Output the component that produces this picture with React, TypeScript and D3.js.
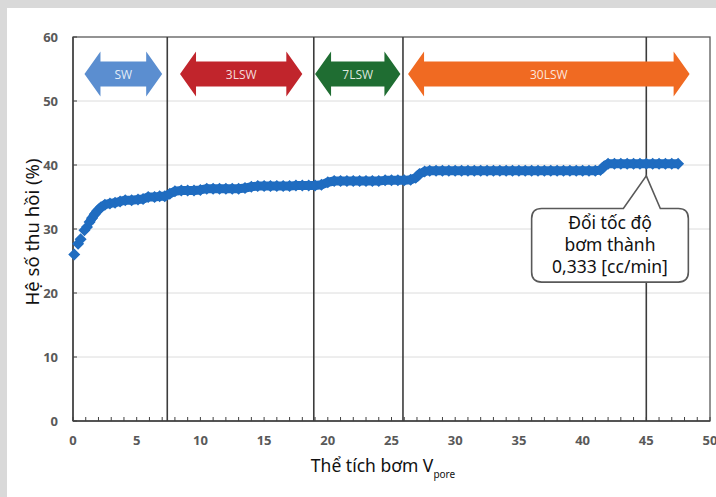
import React from "react";
import * as d3 from "d3";

// pumped volume (pore volumes) and recovery factor (%)
const volume = [
  0.1, 0.4, 0.6, 0.9, 1.1, 1.3, 1.5, 1.7, 1.9, 2.2, 2.5, 2.9, 3.3, 3.7, 4.1, 4.6, 5.1, 5.5, 5.9, 6.4, 6.8, 7.2,
  7.6, 8.0, 8.5, 9.0, 9.5, 10.0, 10.5, 11.0, 11.5, 12.0, 12.5, 13.0, 13.5, 14.0, 14.5, 15.0, 15.5, 16.0,
  16.5, 17.0, 17.5, 18.0, 18.5, 19.0, 19.5, 20.0, 20.5, 21.0, 21.5, 22.0, 22.5, 23.0, 23.5, 24.0, 24.5,
  25.0, 25.5, 26.0, 26.5, 26.9, 27.2, 27.6, 28.0, 28.5, 29.0, 29.5, 30.0, 30.5, 31.0, 31.5, 32.0, 32.5,
  33.0, 33.5, 34.0, 34.5, 35.0, 35.5, 36.0, 36.5, 37.0, 37.5, 38.0, 38.5, 39.0, 39.5, 40.0, 40.5, 41.0,
  41.4, 41.7, 42.0, 42.5, 43.0, 43.5, 44.0, 44.5, 45.0, 45.5, 46.0, 46.5, 47.0, 47.5,
];
const recovery = [
  26.0, 27.7, 28.4, 29.8, 30.3, 31.1, 31.7, 32.3, 32.8, 33.4, 33.8, 34.0, 34.1, 34.3, 34.5, 34.5, 34.6, 34.7, 35.0, 35.0, 35.1, 35.1,
  35.5, 35.9, 36.0, 36.0, 36.0, 36.1, 36.3, 36.3, 36.3, 36.3, 36.3, 36.3, 36.4, 36.6, 36.7, 36.7, 36.7, 36.7,
  36.7, 36.7, 36.8, 36.8, 36.8, 36.8, 36.9, 37.3, 37.5, 37.5, 37.5, 37.5, 37.5, 37.5, 37.5, 37.5, 37.6,
  37.6, 37.6, 37.6, 37.7, 38.0, 38.6, 39.0, 39.1, 39.1, 39.1, 39.1, 39.1, 39.1, 39.1, 39.1, 39.1, 39.1,
  39.1, 39.1, 39.1, 39.1, 39.1, 39.1, 39.1, 39.1, 39.1, 39.1, 39.1, 39.1, 39.1, 39.1, 39.1, 39.1, 39.1,
  39.2, 39.8, 40.2, 40.2, 40.2, 40.2, 40.2, 40.2, 40.2, 40.2, 40.2, 40.2, 40.2, 40.2,
];

// injection phase boundaries and the labelled arrows
const boundaries = [7.4, 18.9, 25.9, 45.0];
const phaseNames = ["SW", "3LSW", "7LSW", "30LSW"];
const phaseStart = [0.9, 8.4, 19.0, 26.3];
const phaseEnd = [7.0, 18.0, 25.7, 48.4];
const phaseColors = ["#5b8ed0", "#c1252c", "#1f6d32", "#f06a22"];

const xTicks = [0, 5, 10, 15, 20, 25, 30, 35, 40, 45, 50];
const yTicks = [0, 10, 20, 30, 40, 50, 60];
const calloutLines = ["Đổi tốc độ", "bơm thành", "0,333 [cc/min]"];

const W = 716;
const H = 497;
const left = 73;
const right = 710;
const top = 37;
const bottom = 421;

export default function App() {
  const x = d3.scaleLinear().domain([0, 50]).range([left, right]);
  const y = d3.scaleLinear().domain([0, 60]).range([bottom, top]);

  const pts: [number, number][] = volume.map((v, i) => [x(v), y(recovery[i])]);
  // the first few markers stand apart, the rest merge into a band
  const line = d3.line()(pts.slice(5)) || "";
  const diamond = d3.symbol().type(d3.symbolSquare).size(72)() || "";

  const minor = d3.range(0, 51, 1);

  // double headed block arrows
  const cy = 74;
  const headH = 22.5;
  const bodyH = 12.5;
  const headL = 16;
  const arrowPath = (x0: number, x1: number) =>
    `M${x0},${cy} L${x0 + headL},${cy - headH} L${x0 + headL},${cy - bodyH} L${x1 - headL},${cy - bodyH} ` +
    `L${x1 - headL},${cy - headH} L${x1},${cy} L${x1 - headL},${cy + headH} L${x1 - headL},${cy + bodyH} ` +
    `L${x0 + headL},${cy + bodyH} L${x0 + headL},${cy + headH} Z`;

  // callout box with pointer
  const bx0 = x(36.0), bx1 = x(48.3), by0 = y(33.2), by1 = y(21.7);
  const tipX = x(45.0), tipY = y(38.3);
  const pA = x(43.2), pB = x(46.1);
  const r = 10;
  const callout =
    `M${bx0 + r},${by0} L${pA},${by0} L${tipX},${tipY} L${pB},${by0} L${bx1 - r},${by0} ` +
    `Q${bx1},${by0} ${bx1},${by0 + r} L${bx1},${by1 - r} Q${bx1},${by1} ${bx1 - r},${by1} ` +
    `L${bx0 + r},${by1} Q${bx0},${by1} ${bx0},${by1 - r} L${bx0},${by0 + r} Q${bx0},${by0} ${bx0 + r},${by0} Z`;
  const cx = (bx0 + bx1) / 2;

  return (
    <svg width={W} height={H} style={{ position: "absolute", left: 0, top: 0 }}>
      <rect x={0} y={0} width={W} height={H} fill="#d9d9d9" />
      <rect x={7} y={8} width={W} height={H} fill="#ffffff" />

      {/* gridlines */}
      {yTicks.slice(1, -1).map((t) => (
        <line key={"g" + t} x1={left} x2={right} y1={y(t)} y2={y(t)} stroke="#dcdcdc" strokeWidth={1} />
      ))}

      {/* plot frame */}
      <rect x={left} y={top} width={right - left} height={bottom - top} fill="none" stroke="#5a5a5a" strokeWidth={1.3} />

      {/* ticks */}
      {minor.map((t) => (
        <line key={"mx" + t} x1={x(t)} x2={x(t)} y1={bottom} y2={bottom - 4} stroke="#404040" strokeWidth={1} />
      ))}
      {yTicks.map((t) => (
        <line key={"my" + t} x1={left} x2={left + 4} y1={y(t)} y2={y(t)} stroke="#404040" strokeWidth={1} />
      ))}
      <line x1={left} x2={left} y1={top} y2={bottom} stroke="#404040" strokeWidth={1.5} />
      <line x1={left} x2={right} y1={bottom} y2={bottom} stroke="#404040" strokeWidth={1.5} />

      {/* phase boundaries */}
      {boundaries.map((b) => (
        <line key={"b" + b} x1={x(b)} x2={x(b)} y1={top} y2={bottom} stroke="#3c3c3c" strokeWidth={1.6} />
      ))}

      {/* phase arrows */}
      {phaseNames.map((n, i) => {
        const x0 = x(phaseStart[i]);
        const x1 = x(phaseEnd[i]);
        return (
          <g key={n}>
            <path d={arrowPath(x0, x1)} fill={phaseColors[i]} />
            <text x={(x0 + x1) / 2} y={cy + 4.5} textAnchor="middle" fontFamily="'Open Sans', sans-serif"
              fontSize={12} fill="#ffffff" fillOpacity={0.85}>{n}</text>
          </g>
        );
      })}

      {/* series */}
      <path d={line} fill="none" stroke="#1f6cc0" strokeWidth={9} strokeLinejoin="round" />
      {pts.map((p, i) => (
        <path key={"d" + i} d={diamond} transform={`translate(${p[0]},${p[1]}) rotate(45)`} fill="#1f6cc0" />
      ))}

      {/* callout */}
      <path d={callout} fill="#ffffff" stroke="#595959" strokeWidth={1.6} />
      {calloutLines.map((t, i) => (
        <text key={t} x={cx} y={by0 + 20 + i * 22} textAnchor="middle" fontFamily="'Noto Sans', sans-serif"
          fontSize={17.5} fill="#111">{t}</text>
      ))}

      {/* tick labels */}
      {xTicks.map((t) => (
        <text key={"xt" + t} x={x(t)} y={bottom + 24} textAnchor="middle" fontFamily="'Open Sans', sans-serif"
          fontWeight="bold" fontSize={13} fill="#595959">{t}</text>
      ))}
      {yTicks.map((t) => (
        <text key={"yt" + t} x={left - 15} y={y(t) + 4.5} textAnchor="end" fontFamily="'Open Sans', sans-serif"
          fontWeight="bold" fontSize={13} fill="#595959">{t}</text>
      ))}

      {/* axis titles */}
      <text x={383} y={472} textAnchor="middle" fontFamily="'Noto Sans', sans-serif" fontSize={17.5} fill="#111">
        Thể tích bơm V<tspan dy={6} fontSize={10}>pore</tspan>
      </text>
      <text transform={`translate(39,${(top + bottom) / 2 + 3}) rotate(-90)`} textAnchor="middle"
        fontFamily="'Noto Sans', sans-serif" fontSize={18.5} fill="#111">Hệ số thu hồi (%)</text>
    </svg>
  );
}
